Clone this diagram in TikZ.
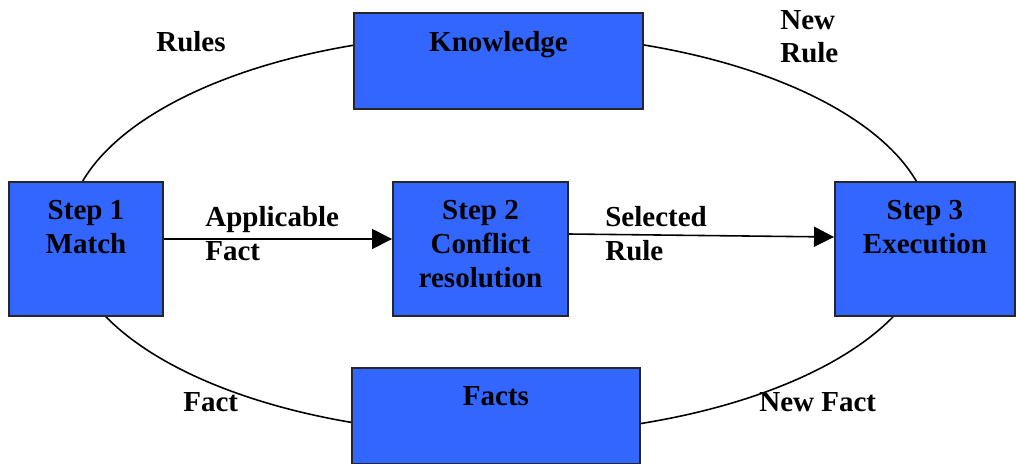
\documentclass[tikz,border=0pt]{standalone}
\usepackage{fontspec}
\setmainfont{Liberation Serif}
\usetikzlibrary{arrows.meta,positioning}
\definecolor{boxblue}{HTML}{3366FF}
\tikzset{
  stepbox/.style={draw=black!85, line width=1.1pt, fill=boxblue, inner sep=0pt},
  boxtext/.style={anchor=base, align=center, inner sep=0pt},
  flowlabel/.style={anchor=base west, align=left, inner sep=0pt},
  flow/.style={line width=0.9pt, -{Triangle[length=0.4cm,width=0.4cm]}}
}
\begin{document}
\begin{tikzpicture}[font=\bfseries\fontsize{16.5}{19.3}\selectfont]
        \useasboundingbox (0,0) rectangle (20.32,9.26);
        % the cycle
        \draw[line width=0.9pt] (9.99,4.58) ellipse (8.64 and 4.01);
        % boxes
        \node[stepbox, minimum width=5.78cm, minimum height=1.92cm] (know) at (9.97,8.04) {};
        \node[stepbox, minimum width=3.08cm, minimum height=2.68cm] (match) at (1.72,4.28) {};
        \node[stepbox, minimum width=3.5cm, minimum height=2.68cm] (resolve) at (9.61,4.28) {};
        \node[stepbox, minimum width=3.6cm, minimum height=2.68cm] (exec) at (18.5,4.28) {};
        \node[stepbox, minimum width=5.76cm, minimum height=1.92cm] (facts) at (9.92,0.94) {};
        % text sits on the baseline of its last line
        \node[boxtext] (know text) at ([yshift=-0.78cm]know.north) {Knowledge};
        \node[boxtext] (match text) at ([yshift=-1.44cm]match.north) {Step 1\\Match};
        \node[boxtext] (resolve text) at ([yshift=-2.12cm]resolve.north) {Step 2\\Conflict\\resolution};
        \node[boxtext] (exec text) at ([yshift=-1.44cm]exec.north) {Step 3\\Execution};
        \node[boxtext] (facts text) at ([yshift=-0.76cm]facts.north) {Facts};
        % arrows
        \draw[flow] ([yshift=0.2cm]match.east) -- ([yshift=0.2cm]resolve.west);
        \draw[flow] ([yshift=0.3cm]resolve.east) -- ([yshift=0.24cm]exec.west);
        % labels
        \node[flowlabel] (rules) at (3.12,8.22) {Rules};
        \node[flowlabel] (new rule) at (15.6,8.0) {New\\Rule};
        \node[flowlabel] (applicable) at (4.1,4.06) {Applicable\\Fact};
        \node[flowlabel] (selected) at (12.1,4.06) {Selected\\Rule};
        \node[flowlabel] (fact) at (3.66,1.04) {Fact};
        \node[flowlabel] (new fact) at (15.18,1.04) {New Fact};
       \end{tikzpicture}
\end{document}
